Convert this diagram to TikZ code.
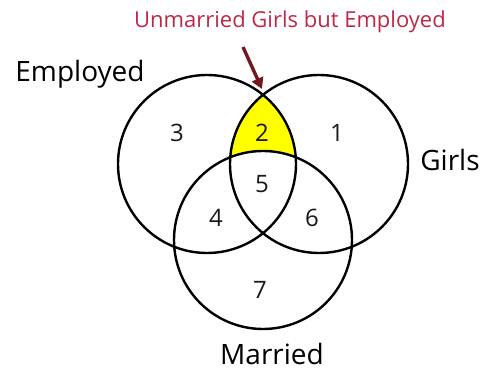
\documentclass[tikz,border=0pt]{standalone}
\usepackage{fontspec}
\setmainfont{Open Sans}
\usetikzlibrary{arrows.meta}
\definecolor{noteRed}{RGB}{190, 40, 72}
\definecolor{arrowRed}{RGB}{112, 26, 32}
\definecolor{zoneYellow}{RGB}{255, 255, 0}

\begin{document}
\begin{tikzpicture}[
    x=1pt, y=-1pt,
    set/.style={circle, draw=black, line width=2.4pt, minimum size=178pt, inner sep=0pt},
    setname/.style={font=\fontsize{28}{30}\selectfont, text=black},
    zone/.style={font=\fontsize{24}{26}\selectfont, text=black!90},
    arrow/.style={-{Triangle[length=11pt, width=12pt]}, line width=3.4pt, draw=arrowRed},
  ]
    \useasboundingbox (0,0) rectangle (485,371);

    % yellow zone: Employed and Girls, outside Married
    \begin{scope}
      \clip (207,164) circle (89);
      \clip (319,164) circle (89);
      \fill[zoneYellow, even odd rule] (0,0) rectangle (485,371) (263,240) circle (89);
    \end{scope}

    % sets
    \node[set] (EMP) at (207,164) {};
    \node[set] (GRL) at (319,164) {};
    \node[set] (MAR) at (263,240) {};

    % set names
    \node[setname] (EMP_L) at (80,74) {Employed};
    \node[setname] (GRL_L) at (450,160) {Girls};
    \node[setname] (MAR_L) at (272,354) {Married};

    % zones
    \node[zone] (Z3) at (177,133) {3};
    \node[zone] (Z2) at (262,133) {2};
    \node[zone] (Z1) at (337,133) {1};
    \node[zone] (Z5) at (262,184) {5};
    \node[zone] (Z4) at (216,218) {4};
    \node[zone] (Z6) at (312,218) {6};
    \node[zone] (Z7) at (260,290) {7};

    % note
    \node[font=\fontsize{22}{24}\selectfont, text=noteRed] (NOTE) at (290,22) {Unmarried Girls but Employed};
    \coordinate (TOP) at (262,89);
    \coordinate (TAIL) at (243,47);
    \draw[arrow] (TAIL) -- (TOP);
  \end{tikzpicture}
\end{document}
